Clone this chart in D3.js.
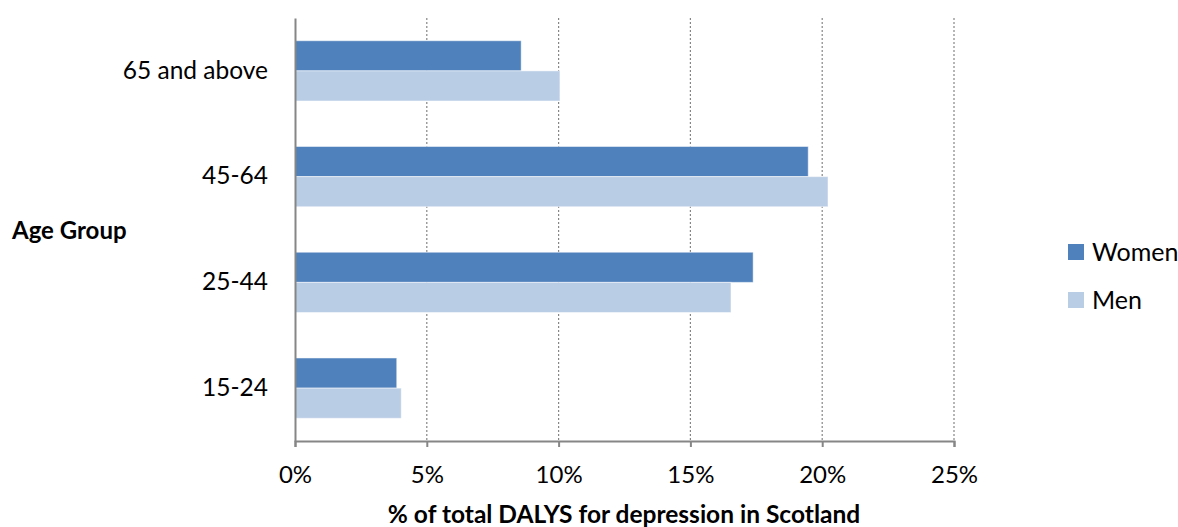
<!DOCTYPE html>
<html><head><meta charset="utf-8">
<script src="https://cdn.jsdelivr.net/npm/d3@7"></script>
<style>body{margin:0;background:#fff;} text{font-family:Lato,"Open Sans",sans-serif;fill:#000;}</style>
</head><body>
<svg id="c" width="1178" height="527"></svg>
<script>
const categories = ["65 and above", "45-64", "25-44", "15-24"];
const seriesNames = ["Women", "Men"];
const women = [8.58, 19.47, 17.38, 3.86];
const men = [10.05, 20.22, 16.54, 4.03];
const xTicks = [0, 5, 10, 15, 20, 25];
const colors = ["#4F81BD", "#B9CDE5"];

const svg = d3.select("#c");
const L = 295, R = 954, T = 18, B = 441;
const x = d3.scaleLinear().domain([0, 25]).range([L, R]);
const y = d3.scaleBand().domain(categories).range([T, B]).paddingInner(0.43).paddingOuter(0.215);
const y2 = d3.scaleBand().domain(seriesNames).range([0, y.bandwidth()]);

// gridlines
svg.append("g").selectAll("line").data(xTicks.filter(d => d > 0)).join("line")
  .attr("x1", d => x(d)).attr("x2", d => x(d)).attr("y1", T).attr("y2", B)
  .attr("stroke", "#868686").attr("stroke-width", 1.2).attr("stroke-dasharray", "2,2");

const data = categories.map((c, i) => ({c, vals: [women[i], men[i]]}));
const g = svg.append("g");
data.forEach(d => {
  d.vals.forEach((v, j) => {
    g.append("rect").attr("x", x(0)).attr("y", y(d.c) + y2(seriesNames[j]))
      .attr("width", x(v) - x(0)).attr("height", y2.bandwidth())
      .attr("fill", colors[j]).attr("stroke", "#fff").attr("stroke-opacity", 0.5).attr("stroke-width", 1);
  });
});

// x axis
const xa = svg.append("g").attr("transform", `translate(0,${B})`)
  .call(d3.axisBottom(x).tickValues(xTicks).tickFormat(d => d + "%").tickSize(6).tickPadding(19));
xa.select(".domain").attr("stroke", "#868686").attr("stroke-width", 2);
xa.selectAll(".tick line").attr("stroke", "#868686").attr("stroke-width", 2);
xa.selectAll("text").style("font-size", "24px").attr("fill", "#000");

// y axis
const ya = svg.append("g").attr("transform", `translate(${L},0)`)
  .call(d3.axisLeft(y).tickSize(0).tickPadding(27));
ya.select(".domain").attr("stroke", "#868686").attr("stroke-width", 2);
ya.selectAll("text").style("font-size", "24.5px").attr("fill", "#000");

// axis titles
svg.append("text").attr("x", 624).attr("y", 523).attr("text-anchor", "middle")
  .style("font-size", "24.5px").style("font-weight", "bold").text("% of total DALYS for depression in Scotland");
svg.append("text").attr("x", 12).attr("y", 231).attr("dy", "0.35em").attr("text-anchor", "start")
  .style("font-size", "24px").style("font-weight", "bold").text("Age Group");

// legend
const lg = svg.append("g");
seriesNames.forEach((s, i) => {
  lg.append("rect").attr("x", 1068).attr("y", 244 + i * 48).attr("width", 16).attr("height", 16).attr("fill", colors[i]);
  lg.append("text").attr("x", 1092).attr("y", 252 + i * 48).attr("dy", "0.35em").style("font-size", "25px").text(s);
});
</script>
</body></html>
